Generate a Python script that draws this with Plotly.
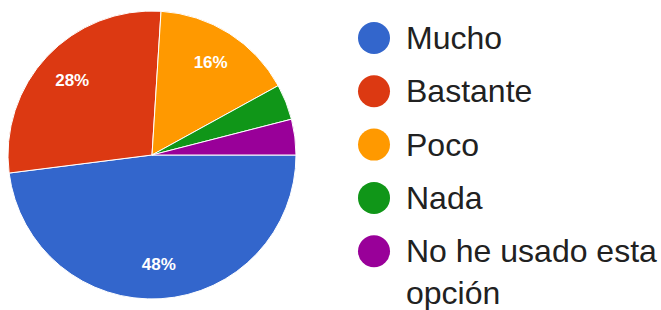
import plotly.graph_objects as go

categories = ["Mucho", "Bastante", "Poco", "Nada", "No he usado esta opción"]
legend_labels = ["Mucho", "Bastante", "Poco", "Nada", "No he usado esta<br>opción"]
counts = [12, 7, 4, 1, 1]
colors = ["#3366CC", "#DC3912", "#FF9900", "#109618", "#990099"]

W, H = 661, 310
FONT = "Arial, Liberation Sans, sans-serif"

total = sum(counts)
templates = ["%{percent:.0%}" if c / total >= 0.05 else "" for c in counts]

# pie geometry (pixels)
cx, cy, r = 152, 155, 144
domain = dict(x=[(cx - r) / W, (cx + r) / W], y=[(H - cy - r) / H, (H - cy + r) / H])

fig = go.Figure()
# filled slices
fig.add_trace(go.Pie(
    labels=categories,
    values=counts,
    sort=False,
    direction="clockwise",
    rotation=90,
    marker=dict(colors=colors, line=dict(color="white", width=1)),
    textinfo="none",
    showlegend=False,
    hoverinfo="label+percent",
    domain=domain,
))
# transparent ring carrying the percentage labels (places them in the outer part of each slice)
fig.add_trace(go.Pie(
    labels=categories,
    values=counts,
    sort=False,
    direction="clockwise",
    rotation=90,
    hole=0.52,
    marker=dict(colors=["rgba(0,0,0,0)"] * len(counts), line=dict(width=0)),
    texttemplate=templates,
    textposition="inside",
    insidetextorientation="horizontal",
    textfont=dict(family=FONT, size=17, color="white", weight="bold"),
    showlegend=False,
    hoverinfo="skip",
    domain=domain,
))

# custom legend: large circles and labels
leg_font = 32
leg_x_circle = 374
leg_x_text = 404
leg_y0 = 38
leg_step = 53.3
shapes = []
annotations = []
for i, (lab, col) in enumerate(zip(legend_labels, colors)):
    yc = leg_y0 + i * leg_step
    shapes.append(dict(
        type="circle", xref="paper", yref="paper",
        xsizemode="pixel", ysizemode="pixel",
        xanchor=leg_x_circle / W, yanchor=1 - yc / H,
        x0=-16, x1=16, y0=-16, y1=16,
        fillcolor=col, line=dict(width=0),
    ))
    nlines = lab.count("<br>") + 1
    ymid = yc + (nlines - 1) * 0.65 * leg_font
    annotations.append(dict(
        text=lab, xref="paper", yref="paper",
        x=leg_x_text / W, y=1 - ymid / H,
        xanchor="left", yanchor="middle", align="left",
        showarrow=False,
        font=dict(family=FONT, size=leg_font, color="#212121"),
    ))

fig.update_layout(
    width=W, height=H,
    margin=dict(l=0, r=0, t=0, b=0),
    paper_bgcolor="white",
    plot_bgcolor="white",
    shapes=shapes,
    annotations=annotations,
)

fig.write_html(
    "out.html",
    config={"displayModeBar": False},
    post_script="document.body.style.margin='0';document.body.style.overflow='hidden';",
)
